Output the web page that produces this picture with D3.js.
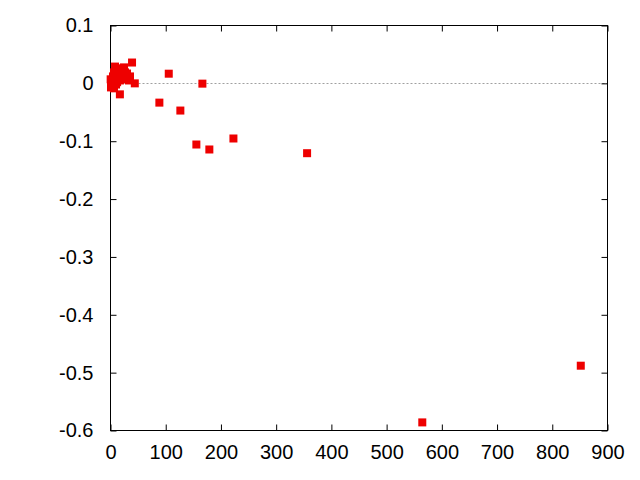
<!DOCTYPE html>
<html>
<head>
<meta charset="utf-8">
<script src="https://cdn.jsdelivr.net/npm/d3@7"></script>
<style>
  html, body { margin: 0; padding: 0; background: #fff; }
  svg { display: block; }
  .tick-label { font-family: "Liberation Sans", Arial, sans-serif; font-size: 20px; fill: #000; }
</style>
</head>
<body>
<div id="chart"></div>
<script>
// points: x values and matching y values
const xs = [
  2.7, 2.7, 4.5, 6.3, 8.2, 10, 11.8, 13.6, 15.4, 17.2, 19, 20.8, 22.7, 24.5, 26.3, 28.1,
  29.9, 31.7, 33.5, 35.3, 0.9, 0.9, 6.3, 10, 4.5, 12, 17, 0.3, 24.5, 30, 8.2,
  39, 44, 17, 88.5, 105.5, 126.5, 155.5, 166.4, 179, 222.6, 356, 564.6, 851.6
];
const ys = [
  -0.003, 0.005, 0.012, 0.019, 0.029, 0.022, 0.014, 0.007, 0.019, 0.026, 0.0155, 0.0086, 0.022, 0.0276, 0.019, 0.012,
  0.017, 0.010, 0.005, 0.012, 0.002, -0.007, -0.0086, -0.002, 0.002, 0.002, 0.005, 0.007, 0.0086, 0.007, 0.010,
  0.036, 0.0, -0.019, -0.0333, 0.0167, -0.047, -0.1057, -0.0005, -0.1143, -0.0953, -0.1207, -0.586, -0.488
];
const xTicks = [0, 100, 200, 300, 400, 500, 600, 700, 800, 900];
const yTicks = [0.1, 0, -0.1, -0.2, -0.3, -0.4, -0.5, -0.6];

const width = 640, height = 480;
const m = { left: 110.5, right: 32.5, top: 25.5, bottom: 49.5 };

const svg = d3.select("#chart").append("svg")
  .attr("width", width).attr("height", height);

const x = d3.scaleLinear().domain([0, 900]).range([m.left, width - m.right]);
const y = d3.scaleLinear().domain([-0.6, 0.1]).range([height - m.bottom, m.top]);

// zero line
svg.append("line")
  .attr("x1", x(0)).attr("x2", x(900))
  .attr("y1", Math.round(y(0)) + 0.5).attr("y2", Math.round(y(0)) + 0.5)
  .attr("stroke", "#a0a0a0").attr("stroke-width", 1)
  .attr("stroke-dasharray", "2,2");

const tickLen = 6;
// plain hyphen for negatives, like the original
const fmt = d => d === 0 ? "0" : d.toFixed(1);

// axes: ticks inward, mirrored on the opposite side
const axes = [
  d3.axisBottom(x).tickValues(xTicks).tickSize(-tickLen).tickPadding(14),
  d3.axisTop(x).tickValues(xTicks).tickSize(-tickLen).tickFormat(""),
  d3.axisLeft(y).tickValues(yTicks).tickSize(-tickLen).tickPadding(17).tickFormat(fmt),
  d3.axisRight(y).tickValues(yTicks).tickSize(-tickLen).tickFormat("")
];
const shifts = [
  `translate(0,${y(-0.6)})`, `translate(0,${y(0.1)})`,
  `translate(${x(0)},0)`, `translate(${x(900)},0)`
];
axes.forEach((ax, i) => {
  const g = svg.append("g").attr("transform", shifts[i]).call(ax);
  g.select(".domain").remove();
  g.selectAll(".tick line").attr("stroke", "#000");
  g.selectAll("text").attr("class", "tick-label");
});

// frame
svg.append("rect")
  .attr("x", x(0)).attr("y", y(0.1))
  .attr("width", x(900) - x(0)).attr("height", y(-0.6) - y(0.1))
  .attr("fill", "none").attr("stroke", "#000").attr("stroke-width", 1);

const s = 8;
svg.append("g").selectAll("rect")
  .data(xs.map((v, i) => [v, ys[i]]))
  .join("rect")
  .attr("x", d => x(d[0]) - s / 2)
  .attr("y", d => y(d[1]) - s / 2)
  .attr("width", s).attr("height", s)
  .attr("fill", "#ee0000");
</script>
</body>
</html>
